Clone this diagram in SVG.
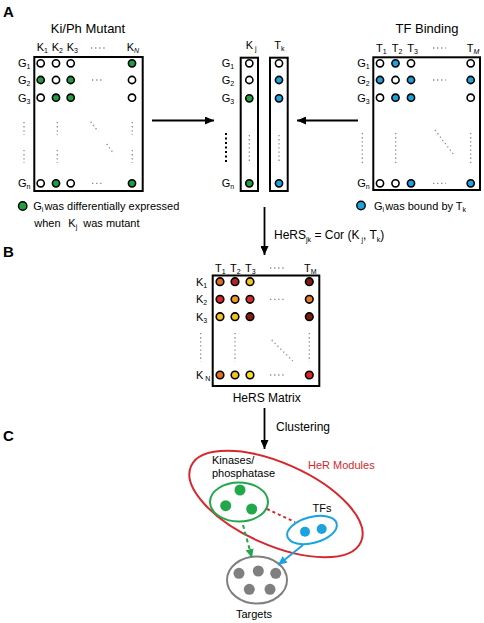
<svg xmlns="http://www.w3.org/2000/svg" width="484" height="623" viewBox="0 0 484 623">
<defs>
<marker id="ah" markerUnits="userSpaceOnUse" markerWidth="10" markerHeight="8" refX="9" refY="4" orient="auto"><path d="M0,0 L9,4 L0,8 z" fill="#000"/></marker>
<marker id="ahg" markerUnits="userSpaceOnUse" markerWidth="10" markerHeight="8" refX="9" refY="4" orient="auto"><path d="M0,0 L9,4 L0,8 z" fill="#22a84a"/></marker>
<marker id="ahb" markerUnits="userSpaceOnUse" markerWidth="10" markerHeight="8" refX="9" refY="4" orient="auto"><path d="M0,0 L9,4 L0,8 z" fill="#1ba3e0"/></marker>
</defs>
<style>
text{font-family:"Liberation Sans",Arial,sans-serif;fill:#000}
.P{font-size:15px;font-weight:bold}
.t{font-size:13px}
.m{font-size:12px}
.l{font-size:11px}
.s{font-size:7px}
.box{fill:none;stroke:#000;stroke-width:2}
.c{stroke:#000;stroke-width:1.6}
.w{fill:#fff}
.g{fill:#1f9e44}
.b{fill:#1ba3e0}
.dot{stroke:#8a8a8a;stroke-width:1.3;stroke-dasharray:1.3 2.8;fill:none}
.arr{stroke:#000;stroke-width:1.8;fill:none}
</style>
<rect width="484" height="623" fill="#fff"/>

<text class="P" x="3" y="17">A</text>
<text class="P" x="3" y="257">B</text>
<text class="P" x="3" y="441">C</text>

<g id="kiph-matrix">
<text class="t" x="88" y="32.5" text-anchor="middle">Ki/Ph Mutant</text>
<text class="l" x="36.7" y="51">K<tspan class="s" dy="2">1</tspan></text>
<text class="l" x="51.7" y="51">K<tspan class="s" dy="2">2</tspan></text>
<text class="l" x="66.7" y="51">K<tspan class="s" dy="2">3</tspan></text>
<text class="l" x="126.7" y="51">K<tspan class="s" dy="2" font-style="italic">N</tspan></text>
<path class="dot" d="M91,48H105"/>
<text class="l" x="18" y="67">G<tspan class="s" dy="2">1</tspan></text>
<text class="l" x="18" y="84">G<tspan class="s" dy="2">2</tspan></text>
<text class="l" x="18" y="101.5">G<tspan class="s" dy="2">3</tspan></text>
<text class="l" x="18" y="187">G<tspan class="s" dy="2">n</tspan></text>
<rect class="box" x="34.3" y="57" width="108.4" height="134"/>
<circle class="c w" cx="40.7" cy="63.3" r="3.6"/><circle class="c w" cx="56" cy="63.3" r="3.6"/><circle class="c w" cx="70.7" cy="63.3" r="3.6"/><circle class="c g" cx="132" cy="63.3" r="3.6"/>
<circle class="c g" cx="40.7" cy="80" r="3.6"/><circle class="c w" cx="56" cy="80" r="3.6"/><circle class="c g" cx="70.7" cy="80" r="3.6"/><circle class="c w" cx="132" cy="80" r="3.6"/>
<circle class="c w" cx="40.7" cy="97.7" r="3.6"/><circle class="c g" cx="56" cy="97.7" r="3.6"/><circle class="c g" cx="70.7" cy="97.7" r="3.6"/><circle class="c w" cx="132" cy="97.7" r="3.6"/>
<circle class="c w" cx="40.7" cy="183.3" r="3.6"/><circle class="c g" cx="56" cy="183.3" r="3.6"/><circle class="c w" cx="70.7" cy="183.3" r="3.6"/><circle class="c g" cx="132" cy="183.3" r="3.6"/>
<path class="dot" d="M92,80H104M92,183.3H104"/>
<path class="dot" d="M24,122V135M24,150V163M57.3,122V135M57.3,150V163M132.3,122V135M132.3,150V163"/>
<path class="dot" d="M90.7,121.7L98.3,131.7M106.7,144L114,154"/>
<circle class="g" cx="22.7" cy="206" r="4.2" stroke="#000" stroke-width="1.4"/>
<text class="l" x="33.3" y="210">G<tspan class="s" dy="2">i</tspan><tspan dy="-2" dx="1">was differentially expressed</tspan></text>
<text class="l" x="34.3" y="227">when<tspan x="68.3">K</tspan><tspan class="s" dy="2">j</tspan><tspan x="83.3" dy="-2">was mutant</tspan></text>
</g>

<g id="tf-matrix">
<text class="t" x="427" y="32.5" text-anchor="middle">TF Binding</text>
<text class="l" x="376" y="51.5">T<tspan class="s" dy="2">1</tspan></text>
<text class="l" x="391.7" y="51.5">T<tspan class="s" dy="2">2</tspan></text>
<text class="l" x="407.3" y="51.5">T<tspan class="s" dy="2">3</tspan></text>
<text class="l" x="466.7" y="51.5">T<tspan class="s" dy="2" font-style="italic">M</tspan></text>
<path class="dot" d="M433,48H446"/>
<text class="l" x="357.3" y="67">G<tspan class="s" dy="2">1</tspan></text>
<text class="l" x="357.3" y="84">G<tspan class="s" dy="2">2</tspan></text>
<text class="l" x="357.3" y="101.5">G<tspan class="s" dy="2">3</tspan></text>
<text class="l" x="357.3" y="187">G<tspan class="s" dy="2">n</tspan></text>
<rect class="box" x="373.3" y="57.3" width="106.7" height="132.7"/>
<circle class="c w" cx="380" cy="63.3" r="3.6"/><circle class="c b" cx="395.5" cy="63.3" r="3.6"/><circle class="c w" cx="411" cy="63.3" r="3.6"/><circle class="c w" cx="470.7" cy="63.3" r="3.6"/>
<circle class="c b" cx="380" cy="80" r="3.6"/><circle class="c w" cx="395.5" cy="80" r="3.6"/><circle class="c b" cx="411" cy="80" r="3.6"/><circle class="c b" cx="470.7" cy="80" r="3.6"/>
<circle class="c w" cx="380" cy="97.7" r="3.6"/><circle class="c b" cx="395.5" cy="97.7" r="3.6"/><circle class="c b" cx="411" cy="97.7" r="3.6"/><circle class="c w" cx="470.7" cy="97.7" r="3.6"/>
<circle class="c w" cx="380" cy="183.3" r="3.6"/><circle class="c w" cx="395.5" cy="183.3" r="3.6"/><circle class="c b" cx="411" cy="183.3" r="3.6"/><circle class="c b" cx="470.7" cy="183.3" r="3.6"/>
<path class="dot" d="M433,80H446M433,183.3H446"/>
<path class="dot" d="M362.3,133V163M395.7,133V163M470.7,133V163"/>
<path class="dot" d="M435,130L453.3,154"/>
<circle class="b" cx="361" cy="205.5" r="4.2" stroke="#000" stroke-width="1.4"/>
<text class="l" x="374" y="209.5">G<tspan class="s" dy="2">i</tspan><tspan dy="-2" dx="1">was bound by T</tspan><tspan class="s" dy="2">k</tspan></text>
</g>

<g id="kj-tk-columns">
<text class="l" x="245.7" y="49">K<tspan class="s" dy="2"> j</tspan></text>
<text class="l" x="274.3" y="49">T<tspan class="s" dy="2">k</tspan></text>
<text class="l" x="221.7" y="67">G<tspan class="s" dy="2">1</tspan></text>
<text class="l" x="221.7" y="84">G<tspan class="s" dy="2">2</tspan></text>
<text class="l" x="221.7" y="102">G<tspan class="s" dy="2">3</tspan></text>
<text class="l" x="221.7" y="187">G<tspan class="s" dy="2">n</tspan></text>
<rect class="box" x="240.7" y="57.7" width="17.3" height="133.3"/>
<rect class="box" x="270" y="57.7" width="17.7" height="133.3"/>
<circle class="c w" cx="249.3" cy="63.3" r="3.6"/><circle class="c w" cx="249.3" cy="80" r="3.6"/><circle class="c g" cx="249.3" cy="98.3" r="3.6"/><circle class="c g" cx="249.3" cy="183.3" r="3.6"/>
<circle class="c w" cx="279" cy="63.3" r="3.6"/><circle class="c b" cx="279" cy="80" r="3.6"/><circle class="c b" cx="279" cy="98.3" r="3.6"/><circle class="c b" cx="279" cy="183.3" r="3.6"/>
<path d="M226,133V163" stroke="#000" stroke-width="2" stroke-dasharray="2 2.5"/>
<path class="dot" d="M249.3,135V163M279,135V163"/>
</g>

<g id="hers-matrix">
<text class="l" x="215" y="271.5">T<tspan class="s" dy="2">1</tspan></text>
<text class="l" x="230" y="271.5">T<tspan class="s" dy="2">2</tspan></text>
<text class="l" x="245" y="271.5">T<tspan class="s" dy="2">3</tspan></text>
<text class="l" x="304" y="271.5">T<tspan class="s" dy="2">M</tspan></text>
<path class="dot" d="M270,268H284"/>
<text class="l" x="196" y="285.7">K<tspan class="s" dy="2">1</tspan></text>
<text class="l" x="196" y="303.3">K<tspan class="s" dy="2">2</tspan></text>
<text class="l" x="196" y="320.7">K<tspan class="s" dy="2">3</tspan></text>
<text class="l" x="196" y="379">K<tspan class="s" dy="2"> N</tspan></text>
<rect class="box" x="212.7" y="275.5" width="106.6" height="110.5"/>
<circle class="c" fill="#e06a1e" cx="220" cy="281.7" r="3.8"/><circle class="c" fill="#b5232a" cx="235" cy="281.7" r="3.8"/><circle class="c" fill="#f6c419" cx="250" cy="281.7" r="3.8"/><circle class="c" fill="#7d1a12" cx="309.3" cy="281.7" r="3.8"/>
<circle class="c" fill="#e02424" cx="220" cy="299.3" r="3.8"/><circle class="c" fill="#f09a22" cx="235" cy="299.3" r="3.8"/><circle class="c" fill="#e02a2a" cx="250" cy="299.3" r="3.8"/><circle class="c" fill="#e6782a" cx="309.3" cy="299.3" r="3.8"/>
<circle class="c" fill="#f7c21a" cx="220" cy="316.7" r="3.8"/><circle class="c" fill="#f5c01e" cx="235" cy="316.7" r="3.8"/><circle class="c" fill="#8a1c12" cx="250" cy="316.7" r="3.8"/><circle class="c" fill="#7d1a12" cx="309.3" cy="316.7" r="3.8"/>
<circle class="c" fill="#e3701f" cx="220" cy="375" r="3.8"/><circle class="c" fill="#f6c21a" cx="235" cy="375" r="3.8"/><circle class="c" fill="#f8e020" cx="250" cy="375" r="3.8"/><circle class="c" fill="#d9242a" cx="309.3" cy="375" r="3.8"/>
<path class="dot" d="M270,299.3H284M270,375H284"/>
<path class="dot" d="M200.7,333V362M235,333V362M309.3,333V362"/>
<path class="dot" d="M271.7,340L292.7,361"/>
<text class="m" x="266.7" y="402" text-anchor="middle">HeRS Matrix</text>
</g>

<g id="modules">
<ellipse cx="276" cy="504" rx="93" ry="41" transform="rotate(24 276 504)" fill="none" stroke="#d6282d" stroke-width="2"/>
<text class="l" x="308" y="469" style="fill:#d6282d">HeR Modules</text>
</g>
<g id="kinases">
<ellipse cx="239" cy="502" rx="29" ry="19.5" fill="none" stroke="#22a84a" stroke-width="2"/>
<circle cx="240" cy="490" r="5.5" fill="#22a84a"/>
<circle cx="225.7" cy="505.7" r="5.5" fill="#22a84a"/>
<circle cx="251.7" cy="509" r="5.5" fill="#22a84a"/>
<text class="l" x="212" y="464">Kinases/</text>
<text class="l" x="212" y="477">phosphatase</text>
</g>
<g id="tfs">
<ellipse cx="312" cy="530" rx="25.5" ry="13" transform="rotate(-15 312 530)" fill="none" stroke="#1ba3e0" stroke-width="2"/>
<circle cx="305" cy="531.7" r="5" fill="#1ba3e0"/>
<circle cx="321.7" cy="529" r="5" fill="#1ba3e0"/>
<text class="l" x="322" y="512" text-anchor="middle">TFs</text>
</g>
<g id="targets">
<ellipse cx="257" cy="580" rx="30" ry="23.5" fill="none" stroke="#808080" stroke-width="2"/>
<circle cx="239" cy="573.3" r="5.5" fill="#7f7f7f"/>
<circle cx="258.3" cy="571" r="5.5" fill="#7f7f7f"/>
<circle cx="275.7" cy="573.3" r="5.5" fill="#7f7f7f"/>
<circle cx="249.3" cy="589.3" r="5.5" fill="#7f7f7f"/>
<circle cx="270" cy="589.3" r="5.5" fill="#7f7f7f"/>
<text class="l" x="254" y="618" text-anchor="middle">Targets</text>
</g>

<g id="connectors">
<path class="arr" d="M152,120.5H214" marker-end="url(#ah)"/>
<path class="arr" d="M358,120.5H297" marker-end="url(#ah)"/>
<path class="arr" d="M264.5,207V255" marker-end="url(#ah)"/>
<text class="m" x="274" y="239">HeRS<tspan class="s" dy="2.5">jk</tspan><tspan dy="-2.5"> = Cor (K</tspan><tspan class="s" dy="2.5"> j</tspan><tspan dy="-2.5">, T</tspan><tspan class="s" dy="2.5">k</tspan><tspan dy="-2.5">)</tspan></text>
<path class="arr" d="M264.5,408V449" marker-end="url(#ah)"/>
<text class="m" x="276" y="431">Clustering</text>
<path d="M267,509L295,522" stroke="#d6282d" stroke-width="2" stroke-dasharray="3 3" fill="none"/>
<path d="M243,525L252,558" stroke="#22a84a" stroke-width="2" stroke-dasharray="4 3" fill="none" marker-end="url(#ahg)"/>
<path d="M303,545L278,565" stroke="#1ba3e0" stroke-width="2" fill="none" marker-end="url(#ahb)"/>
</g>
</svg>
